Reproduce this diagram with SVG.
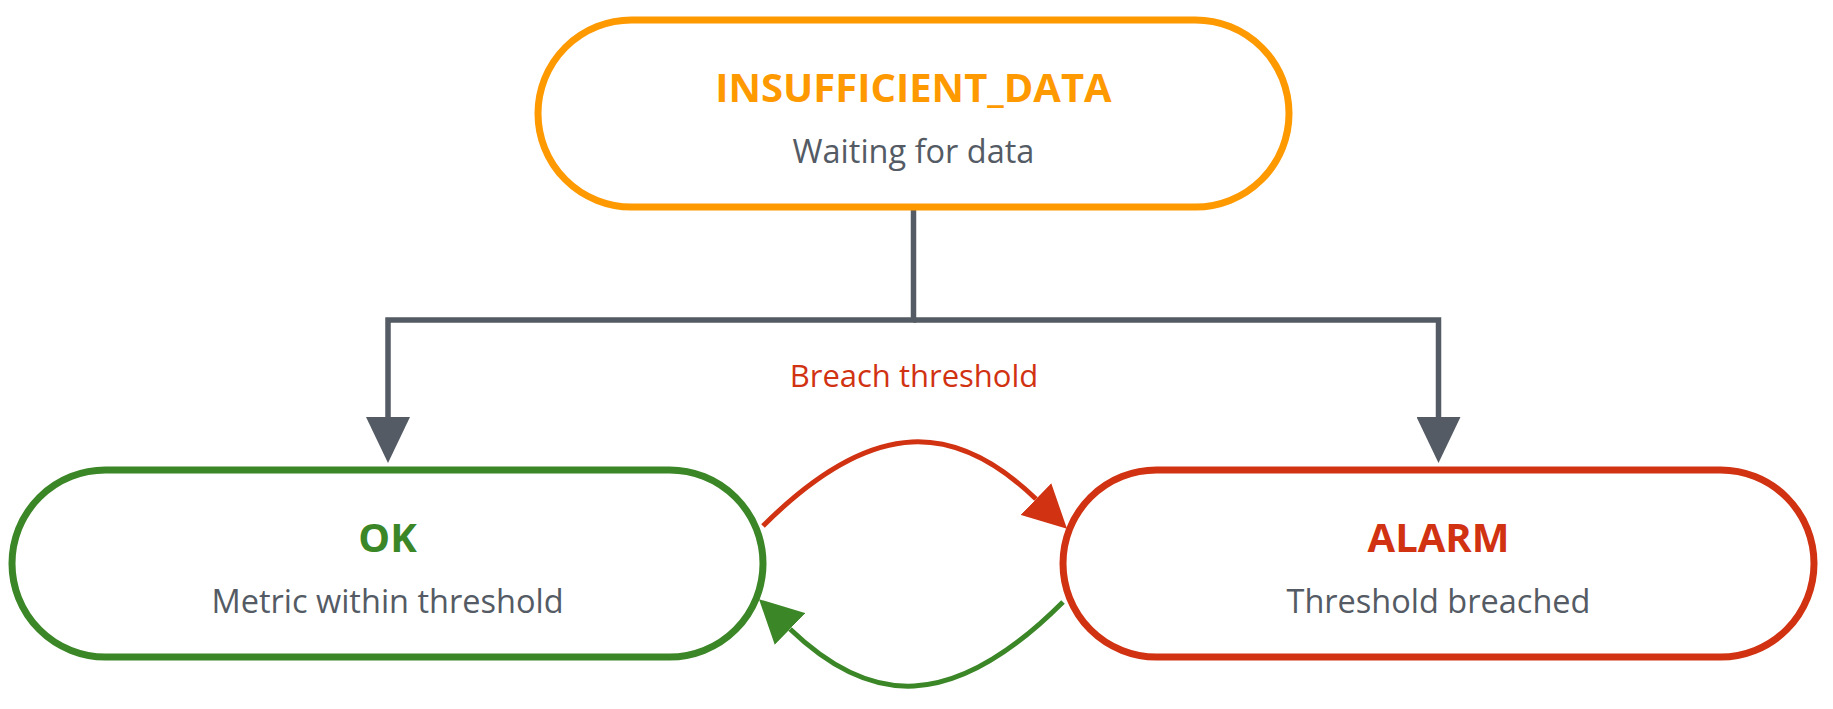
<svg xmlns="http://www.w3.org/2000/svg" width="1833" height="709" viewBox="0 0 1833 709">
  <style>
    .node { fill: #ffffff; stroke-width: 7; }
    .title { font-family: "Open Sans", "Liberation Sans", sans-serif; font-weight: 700; font-size: 40px; text-anchor: middle; }
    .sub { font-family: "Open Sans", "Liberation Sans", sans-serif; font-size: 32.5px; fill: #545B64; text-anchor: middle; }
    .lbl { font-family: "Open Sans", "Liberation Sans", sans-serif; font-size: 31px; fill: #D13212; text-anchor: middle; }
    .conn { fill: none; }
  </style>
  <defs>
    <marker id="ah-gray" markerUnits="userSpaceOnUse" viewBox="0 0 46 44" refX="0" refY="22" markerWidth="46" markerHeight="44" orient="auto">
      <path d="M0,0 L46,22 L0,44 Z" fill="#545B64"/>
    </marker>
    <marker id="ah-red" markerUnits="userSpaceOnUse" viewBox="0 0 44 44" refX="0" refY="22" markerWidth="44" markerHeight="44" orient="auto">
      <path d="M0,0 L43,22 L0,44 Z" fill="#D13212"/>
    </marker>
    <marker id="ah-green" markerUnits="userSpaceOnUse" viewBox="0 0 44 44" refX="0" refY="22" markerWidth="44" markerHeight="44" orient="auto">
      <path d="M0,0 L43,22 L0,44 Z" fill="#3B8626"/>
    </marker>
  </defs>
  <rect width="1833" height="709" fill="#ffffff"/>

  <g id="connectors">
    <path class="conn" d="M913.5,207 V320 H388 V417" stroke="#545B64" stroke-width="5.5" marker-end="url(#ah-gray)"/>
    <path class="conn" d="M913.5,320 H1438.5 V417" stroke="#545B64" stroke-width="5.5" marker-end="url(#ah-gray)"/>
    <path class="conn" d="M763,526 C875,414 957,423 1036,499" stroke="#D13212" stroke-width="5" marker-end="url(#ah-red)"/>
    <path class="conn" d="M1063,602 C951,714 869,705 790,629" stroke="#3B8626" stroke-width="5" marker-end="url(#ah-green)"/>
    <text class="lbl" x="914" y="387">Breach threshold</text>
  </g>

  <g id="node-insufficient">
    <rect class="node" x="538" y="20" width="751" height="187" rx="93.5" ry="93.5" stroke="#FF9900"/>
    <text class="title" x="913.5" y="102" fill="#FF9900">INSUFFICIENT_DATA</text>
    <text class="sub" x="913.5" y="163">Waiting for data</text>
  </g>

  <g id="node-ok">
    <rect class="node" x="12" y="470" width="751" height="187" rx="93.5" ry="93.5" stroke="#3B8626"/>
    <text class="title" x="387.5" y="552" fill="#3B8626">OK</text>
    <text class="sub" x="387.5" y="613">Metric within threshold</text>
  </g>

  <g id="node-alarm">
    <rect class="node" x="1063" y="470" width="751" height="187" rx="93.5" ry="93.5" stroke="#D13212"/>
    <text class="title" x="1438.5" y="552" fill="#D13212">ALARM</text>
    <text class="sub" x="1438.5" y="613">Threshold breached</text>
  </g>
</svg>
